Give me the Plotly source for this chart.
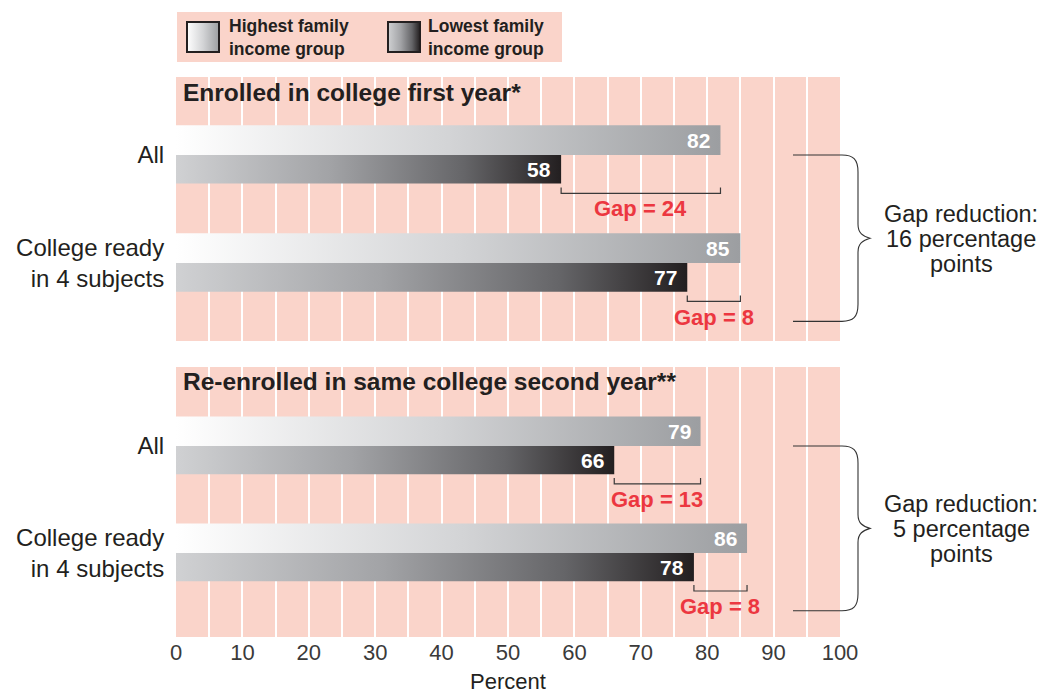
import plotly.graph_objects as go

# ---------------- data ----------------
categories = ["All", "College ready<br>in 4 subjects"]
panel_titles = ["Enrolled in college first year*",
                "Re-enrolled in same college second year**"]
highest_enrolled = [82, 85]
lowest_enrolled = [58, 77]
highest_reenrolled = [79, 86]
lowest_reenrolled = [66, 78]
gap_reduction = [16, 5]
legend_labels = ["Highest family<br>income group", "Lowest family<br>income group"]
x_ticks = list(range(0, 101, 10))
x_title = "Percent"

# ---------------- style ----------------
OFF = 8                      # page body margin
W, H = 1045 - OFF, 693 - OFF
FONT = "Liberation Sans"
DARK = "#231f20"
PINK = "#fad4ca"
RED = "#ec3740"
HIGH_SCALE = [[0, "#ffffff"], [0.5, "#d3d4d6"], [1, "#9c9ea1"]]
LOW_SCALE = [[0, "#d0d1d3"], [0.4, "#a2a3a6"], [0.75, "#656568"], [1, "#231f20"]]

X0PX, X1PX = 176, 840
panels = [
    dict(top=77, bottom=341, r0=-0.722, r1=1.722,
         high=highest_enrolled, low=lowest_enrolled),
    dict(top=367, bottom=637, r0=-0.738, r1=1.785,
         high=highest_reenrolled, low=lowest_reenrolled),
]
HI_T, LO_T = 0.275, 0.265


def pxx(x):
    return (x - OFF) / W


def pxy(y):
    return 1 - (y - OFF) / H


def ypix(p, v):
    return p["top"] + (v - p["r0"]) / (p["r1"] - p["r0"]) * (p["bottom"] - p["top"])


fig = go.Figure()
shapes = []
annotations = []


def rect_trace(x0, x1, y0, y1, scale, xa, ya):
    return go.Scatter(
        x=[x0, x1, x1, x0, x0], y=[y0, y0, y1, y1, y0],
        xaxis=xa, yaxis=ya, mode="lines", line=dict(width=0),
        fill="toself", fillgradient=dict(type="horizontal", colorscale=scale),
        hoverinfo="skip", showlegend=False)


for k, p in enumerate(panels):
    xa = "x" if k == 0 else "x2"
    ya = "y" if k == 0 else "y2"
    # pink background
    shapes.append(dict(type="rect", xref="paper", yref="paper", layer="below",
                       x0=pxx(X0PX), x1=pxx(X1PX), y0=pxy(p["bottom"]), y1=pxy(p["top"]),
                       fillcolor=PINK, line=dict(width=0)))
    # panel title
    annotations.append(dict(xref="paper", yref="paper", x=pxx(181), y=pxy(p["top"] + 15),
                            xanchor="left", yanchor="middle", showarrow=False,
                            text="<b>%s</b>" % panel_titles[k],
                            font=dict(family=FONT, size=24.5, color=DARK)))
    for i in range(len(categories)):
        hi, lo = p["high"][i], p["low"][i]
        fig.add_trace(rect_trace(0, hi, i - HI_T, i, HIGH_SCALE, xa, ya))
        fig.add_trace(rect_trace(0, lo, i, i + LO_T, LOW_SCALE, xa, ya))
        # value labels
        annotations.append(dict(xref=xa, yref=ya, x=hi, y=i - HI_T / 2, xanchor="right",
                                xshift=-8, yanchor="middle", showarrow=False,
                                text="<b>%d</b>" % hi,
                                font=dict(family=FONT, size=21, color="white")))
        annotations.append(dict(xref=xa, yref=ya, x=lo, y=i + LO_T / 2, xanchor="right",
                                xshift=-8, yanchor="middle", showarrow=False,
                                text="<b>%d</b>" % lo,
                                font=dict(family=FONT, size=21, color="white")))
        # gap bracket
        yb = i + 0.355
        yt = yb - 0.055
        shapes.append(dict(type="path", xref=xa, yref=ya, layer="above",
                           path="M %s,%s L %s,%s L %s,%s L %s,%s" % (lo, yt, lo, yb, hi, yb, hi, yt),
                           line=dict(color="#3a3a3a", width=1.2)))
        annotations.append(dict(xref=xa, yref=ya, x=(lo + hi) / 2, y=i + 0.5,
                                xanchor="center", yanchor="middle", showarrow=False,
                                text="<b>Gap = %d</b>" % (hi - lo),
                                font=dict(family=FONT, size=22, color=RED)))
    # curly brace for gap reduction
    yt = ypix(p, 0)
    yb = ypix(p, 1.54)
    ym = (yt + yb) / 2
    xs, xa_, xv, xt = 793, 842, 858, 870
    pts = [
        ("M", [(xs, yt)]), ("L", [(xa_, yt)]),
        ("C", [(xa_ + 11, yt), (xv, yt + 4), (xv, yt + 17)]),
        ("L", [(xv, ym - 14)]),
        ("C", [(xv, ym - 5), (xv + 5, ym - 2), (xt, ym)]),
        ("C", [(xv + 5, ym + 2), (xv, ym + 5), (xv, ym + 14)]),
        ("L", [(xv, yb - 17)]),
        ("C", [(xv, yb - 4), (xa_ + 11, yb), (xa_, yb)]),
        ("L", [(xs, yb)]),
    ]
    path = " ".join(cmd + " " + " ".join("%.5f,%.5f" % (pxx(a), pxy(b)) for a, b in pl)
                    for cmd, pl in pts)
    shapes.append(dict(type="path", xref="paper", yref="paper", layer="above", path=path,
                       line=dict(color="#333333", width=1.1)))
    lines = ["Gap reduction:", "%d percentage" % gap_reduction[k], "points"]
    for j, t in enumerate(lines):
        annotations.append(dict(xref="paper", yref="paper", x=pxx(961), y=pxy(ym - 24 + 25 * j),
                                xanchor="center", yanchor="middle", showarrow=False, text=t,
                                font=dict(family=FONT, size=23.5, color=DARK)))

# ---------------- legend ----------------
shapes.append(dict(type="rect", xref="paper", yref="paper", layer="below",
                   x0=pxx(177), x1=pxx(562), y0=pxy(62), y1=pxy(12),
                   fillcolor=PINK, line=dict(width=0)))
for n, (sx, tx, scale) in enumerate([(187, 228, HIGH_SCALE), (388, 427, LOW_SCALE)]):
    fig.add_trace(go.Scatter(x=[sx, sx + 32, sx + 32, sx, sx], y=[22, 22, 52, 52, 22],
                             xaxis="x3", yaxis="y3", mode="lines", line=dict(width=0),
                             fill="toself",
                             fillgradient=dict(type="horizontal", colorscale=scale),
                             hoverinfo="skip", showlegend=False))
    shapes.append(dict(type="rect", xref="paper", yref="paper", layer="above",
                       x0=pxx(sx), x1=pxx(sx + 32), y0=pxy(52), y1=pxy(22),
                       line=dict(color=DARK, width=2)))
    annotations.append(dict(xref="paper", yref="paper", x=pxx(tx - 1), y=pxy(38),
                            xanchor="left", yanchor="middle", align="left", showarrow=False,
                            text="<b>%s</b>" % legend_labels[n],
                            font=dict(family=FONT, size=17.5, color=DARK)))

# x axis title
annotations.append(dict(xref="paper", yref="paper", x=pxx((X0PX + X1PX) / 2), y=pxy(681),
                        xanchor="center", yanchor="middle", showarrow=False, text=x_title,
                        font=dict(family=FONT, size=22, color=DARK)))


# ---------------- axes ----------------
def xaxis_cfg(show_labels):
    d = dict(domain=[pxx(X0PX), pxx(X1PX)], range=[0, 100], tickvals=x_ticks,
             showgrid=True, gridcolor="white", gridwidth=2,
             minor=dict(dtick=5, showgrid=True, gridcolor="white", gridwidth=2),
             zeroline=False, showline=False, fixedrange=True, automargin=False,
             showticklabels=show_labels)
    if show_labels:
        d.update(ticks="", tickfont=dict(family=FONT, size=22, color="#3a3a3a"))
    return d


def yaxis_cfg(p):
    return dict(domain=[pxy(p["bottom"]), pxy(p["top"])], range=[p["r1"], p["r0"]],
                tickvals=[0, 1], ticktext=categories, showgrid=False, zeroline=False,
                showline=False, ticks="outside", ticklen=6, tickcolor="rgba(0,0,0,0)",
                tickfont=dict(family=FONT, size=24, color=DARK), fixedrange=True,
                automargin=False)


fig.update_layout(
    width=W, height=H,
    margin=dict(l=0, r=0, t=0, b=0),
    paper_bgcolor="white", plot_bgcolor="rgba(0,0,0,0)",
    xaxis=dict(anchor="y", **xaxis_cfg(False)),
    yaxis=dict(anchor="x", **yaxis_cfg(panels[0])),
    xaxis2=dict(anchor="y2", **xaxis_cfg(True)),
    yaxis2=dict(anchor="x2", **yaxis_cfg(panels[1])),
    xaxis3=dict(anchor="y3", domain=[0, 1], range=[OFF, OFF + W], visible=False,
                fixedrange=True),
    yaxis3=dict(anchor="x3", domain=[0, 1], range=[OFF + H, OFF], visible=False,
                fixedrange=True),
    shapes=shapes, annotations=annotations, showlegend=False,
)

fig.write_html("out.html")
